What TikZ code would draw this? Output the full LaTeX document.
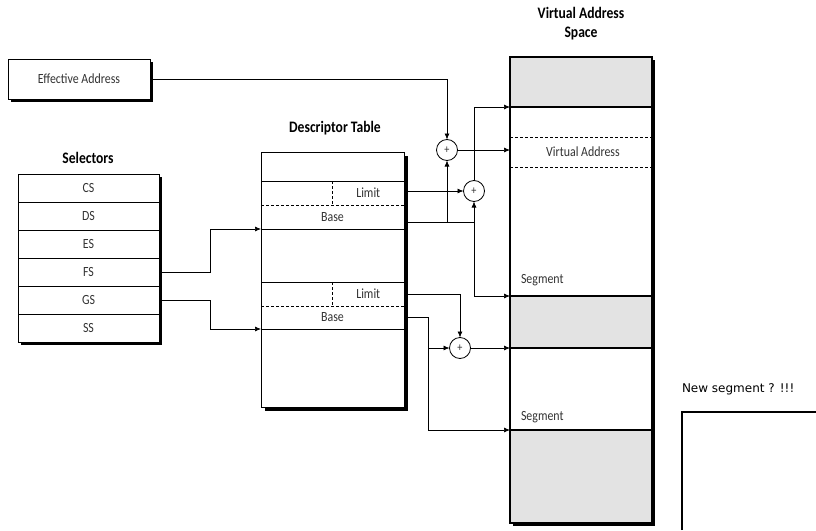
\documentclass[tikz,border=0pt]{standalone}
\usepackage{fontspec}
\setmainfont{Carlito}[FakeStretch=0.85]
\newfontfamily\notefont{DejaVu Sans}
\usetikzlibrary{positioning}
\usetikzlibrary{arrows.meta}
\usetikzlibrary{calc}
\usetikzlibrary{backgrounds}
\definecolor{vGray}{HTML}{E3E3E3}
\definecolor{vText}{HTML}{333333}

\begin{document}
\begin{tikzpicture}[x=1pt, y=-1pt, >={Latex[length=6pt,width=5pt]},
  every node/.style={font=\fontsize{14}{15}\selectfont, text=vText, inner sep=0pt, outer sep=0pt},
  title/.style={font=\fontsize{16}{19}\selectfont\bfseries, text=black, align=center},
  cell/.style={draw, line width=0.8pt, fill=white, minimum width=141pt, minimum height=28pt},
  field/.style={minimum width=143pt},
  region/.style={draw, line width=1.2pt, fill=white, minimum width=142pt},
  adder/.style={draw, circle, line width=0.8pt, fill=white, minimum size=21pt, font=\fontsize{12}{12}\selectfont},
  link/.style={line width=0.7pt},
  node distance=0pt]
  \useasboundingbox (0,0) rectangle (816,530);

  % effective address
  \node[draw, line width=0.8pt, fill=white, minimum width=142pt, minimum height=40pt] (eff) at (79,79) {Effective Address\hspace{12pt}};

  % selectors
  \node[title] (seltitle) at (88,158) {Selectors};
  \node[cell, anchor=north west] (cs) at (18,174) {CS};
  \node[cell, below=of cs] (ds) {DS};
  \node[cell, below=of ds] (es) {ES};
  \node[cell, below=of es] (fs) {FS};
  \node[cell, below=of fs] (gs) {GS};
  \node[cell, below=of gs] (ss) {SS};

  % descriptor table
  \node[title] (desctitle) at (335,128) {Descriptor Table};
  \node[field, minimum height=29pt, anchor=north west] (dtop) at (261,152) {};
  \node[field, minimum height=24pt, below=of dtop] (lim1) {};
  \node[field, minimum height=24pt, below=of lim1] (base1) {Base};
  \node[field, minimum height=53pt, below=of base1] (dmid) {};
  \node[field, minimum height=24pt, below=of dmid] (lim2) {};
  \node[field, minimum height=23pt, below=of lim2] (base2) {Base};
  \node[field, minimum height=78pt, below=of base2] (dbot) {};
  \node (lim1txt) at ($(lim1.center)!0.5!(lim1.east)$) {Limit};
  \node (lim2txt) at ($(lim2.center)!0.5!(lim2.east)$) {Limit};

  \draw[line width=0.8pt] (dtop.north west) rectangle (dbot.south east);
  \draw[line width=0.8pt] (lim1.north west) -- (lim1.north east) (base1.south west) -- (base1.south east);
  \draw[line width=0.8pt] (lim2.north west) -- (lim2.north east) (base2.south west) -- (base2.south east);
  \draw[line width=0.8pt, densely dashed] (lim1.south west) -- (lim1.south east) (lim1.north) -- (lim1.south);
  \draw[line width=0.8pt, densely dashed] (lim2.south west) -- (lim2.south east) (lim2.north) -- (lim2.south);

  % virtual address space
  \node[title] (vastitle) at (581,24) {Virtual Address\\Space};
  \node[region, fill=vGray, minimum height=50pt, anchor=north west] (vtop) at (510,57) {};
  \node[region, minimum height=189pt, below=of vtop] (seg1) {};
  \node[region, fill=vGray, minimum height=52pt, below=of seg1] (gap) {};
  \node[region, minimum height=82pt, below=of gap] (seg2) {};
  \node[region, fill=vGray, minimum height=93pt, below=of seg2] (vbot) {};
  \node (va) at ($(seg1.north)+(2,45)$) {Virtual Address};
  \draw[line width=0.8pt, densely dashed] ($(seg1.north west)+(0,30)$) -- ($(seg1.north east)+(0,30)$);
  \draw[line width=0.8pt, densely dashed] ($(seg1.north west)+(0,60)$) -- ($(seg1.north east)+(0,60)$);
  \node[anchor=west] (seg1lbl) at ($(seg1.south west)+(11,-16)$) {Segment};
  \node[anchor=west] (seg2lbl) at ($(seg2.south west)+(11,-13)$) {Segment};

  % shadows
  \begin{scope}[on background layer]
    \fill ($(eff.north west)+(3,3)$) rectangle ($(eff.south east)+(3,3)$);
    \fill ($(cs.north west)+(3,3)$) rectangle ($(ss.south east)+(3,3)$);
    \fill ($(dtop.north west)+(4,4)$) rectangle ($(dbot.south east)+(4,4)$);
    \fill[white] (dtop.north west) rectangle (dbot.south east);
    \fill ($(vtop.north west)+(3,3)$) rectangle ($(vbot.south east)+(3,3)$);
  \end{scope}

  % adders
  \node[adder] (sum1) at (447,150) {+};
  \node[adder] (sum2) at (474,191) {+};
  \node[adder] (sum3) at (460,348) {+};

  % connectors
  \draw[link,->] (eff.east) -| (sum1);
  \draw[link,->] (sum1) -- (sum1 -| seg1.west);
  \draw[link,->] (lim1.east |- sum2) -- (sum2);
  \coordinate (b1) at ([yshift=-5pt]base1.east);
  \draw[link] (b1) -- (b1 -| sum2);
  \draw[link,->] (b1 -| sum1) -- (sum1);
  \draw[link,->] (b1 -| sum2) -- (sum2);
  \draw[link,->] (b1 -| sum2) |- (seg1.south west);
  \draw[link,->] (sum2) |- (seg1.north west);

  \draw[link,->] (lim2.east) -| (sum3);
  \coordinate (tap2) at ($(base2.east)+(24,0)$);
  \draw[link,->] (base2.east) -- (tap2) |- (seg2.south west);
  \draw[link,->] (tap2 |- sum3) -- (sum3);
  \draw[link,->] (sum3) -- (sum3 -| gap.west);

  \draw[link,->] (fs.east) -- ($(fs.east)!0.5!(fs.east -| dmid.west)$) |- (dmid.north west);
  \draw[link,->] (gs.east) -- ($(gs.east)!0.5!(gs.east -| dbot.west)$) |- (dbot.north west);

  % new segment
  \node[font=\notefont\fontsize{12}{14}\selectfont, text=black, anchor=west] (newseg) at (682,389) {New segment ? !!!};
  \draw[line width=1.5pt] (682,530) -- (682,412) -- (816,412);
\end{tikzpicture}
\end{document}
